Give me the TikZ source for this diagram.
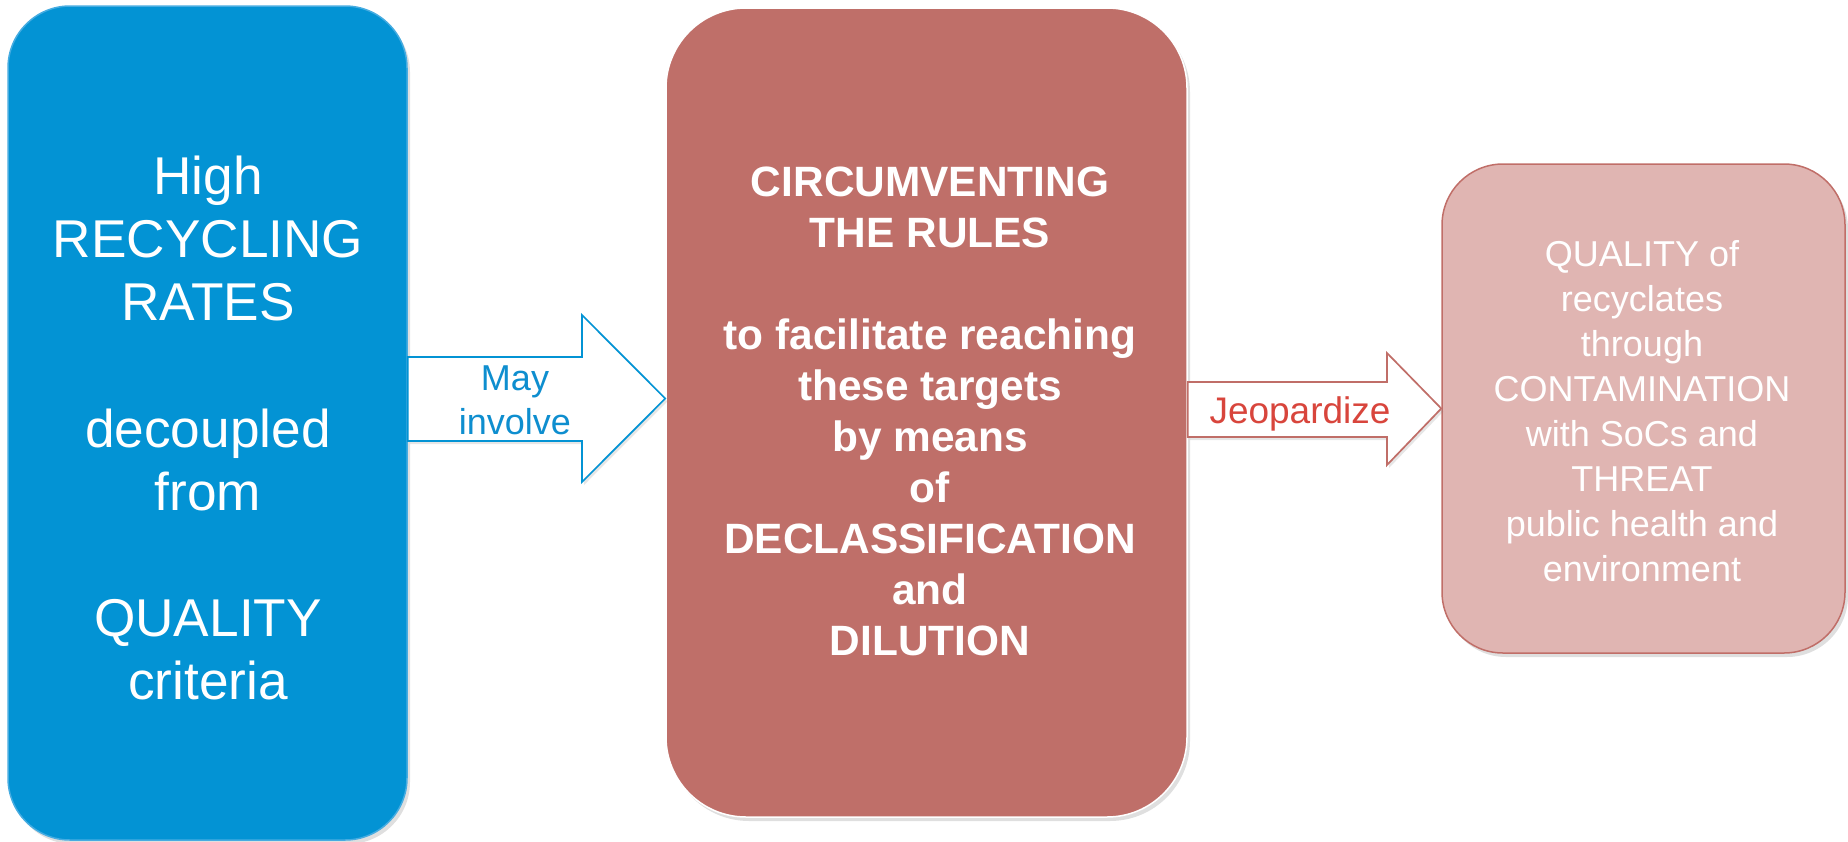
\documentclass[tikz,border=0pt]{standalone}
\usepackage{fontspec}
\setmainfont{Liberation Sans}
\usetikzlibrary{shadows}
\definecolor{rateblue}{RGB}{3,147,212}
\definecolor{rateedge}{RGB}{70,172,225}
\definecolor{rulebrown}{RGB}{191,111,105}
\definecolor{qualpink}{RGB}{224,181,178}
\definecolor{qualedge}{RGB}{192,110,104}
\definecolor{jeored}{RGB}{216,69,60}
\definecolor{mayblue}{RGB}{14,142,207}
\begin{document}
\begin{tikzpicture}
[x=0.5pt, y=-0.5pt,
box/.style={rectangle, inner sep=0pt, line width=0.75pt, drop shadow={shadow xshift=1.5pt, shadow yshift=-2pt, opacity=0.25}},
boxtext/.style={align=center, text=white, inner sep=0pt},
fatarrow/.style={fill=white, line width=0.85pt, line join=miter, drop shadow={shadow xshift=1pt, shadow yshift=-1.5pt, opacity=0.2}},
arrowtext/.style={align=center, inner sep=0pt}]
\useasboundingbox (0,0) rectangle (1848,841);
% the three boxes
\node[box, draw=rateedge, fill=rateblue, rounded corners=31pt, minimum width=199.5pt, minimum height=417pt] (rates) at (207.5,423) {};
\node[box, draw=white, fill=rulebrown, rounded corners=40pt, minimum width=260.5pt, minimum height=404.5pt] (rules) at (926.5,412.5) {};
\node[box, draw=qualedge, fill=qualpink, rounded corners=30.5pt, minimum width=201.5pt, minimum height=244.5pt] (quality) at (1643.5,408.5) {};
\node[boxtext, font=\fontsize{26.6pt}{31.6pt}\selectfont] (ratestext) at (208,428) {High\\RECYCLING\\RATES\\[\baselineskip]decoupled\\from\\[\baselineskip]QUALITY\\criteria};
\node[boxtext, font=\fontsize{21.2pt}{25.5pt}\selectfont\bfseries] (rulestext) at (930,411) {CIRCUMVENTING\\THE RULES\\[\baselineskip]to facilitate reaching\\these targets\\by means\\of\\DECLASSIFICATION\\and\\DILUTION};
\node[boxtext, font=\fontsize{18pt}{22.5pt}\selectfont] (qualitytext) at (1642,411.5) {QUALITY of\\recyclates\\through\\CONTAMINATION\\with SoCs and\\THREAT\\public health and\\environment};
% block arrows
\draw[fatarrow, draw=rateblue] (rates.east |- 0,357) -- (582,357) -- (582,315) -- (rules.west |- 0,398.5) -- (582,482) -- (582,441) -- (rates.east |- 0,441) -- cycle;
\draw[fatarrow, draw=qualedge] (rules.east |- 0,382) -- (1387,382) -- (1387,353) -- (quality.west) -- (1387,465) -- (1387,437) -- (rules.east |- 0,437) -- cycle;
\node[arrowtext, text=mayblue, font=\fontsize{18pt}{22pt}\selectfont] (may) at (515,400) {May\\involve};
\node[arrowtext, text=jeored, font=\fontsize{18.5pt}{22pt}\selectfont] (jeo) at (1300,413.5) {Jeopardize};
\end{tikzpicture}
\end{document}
